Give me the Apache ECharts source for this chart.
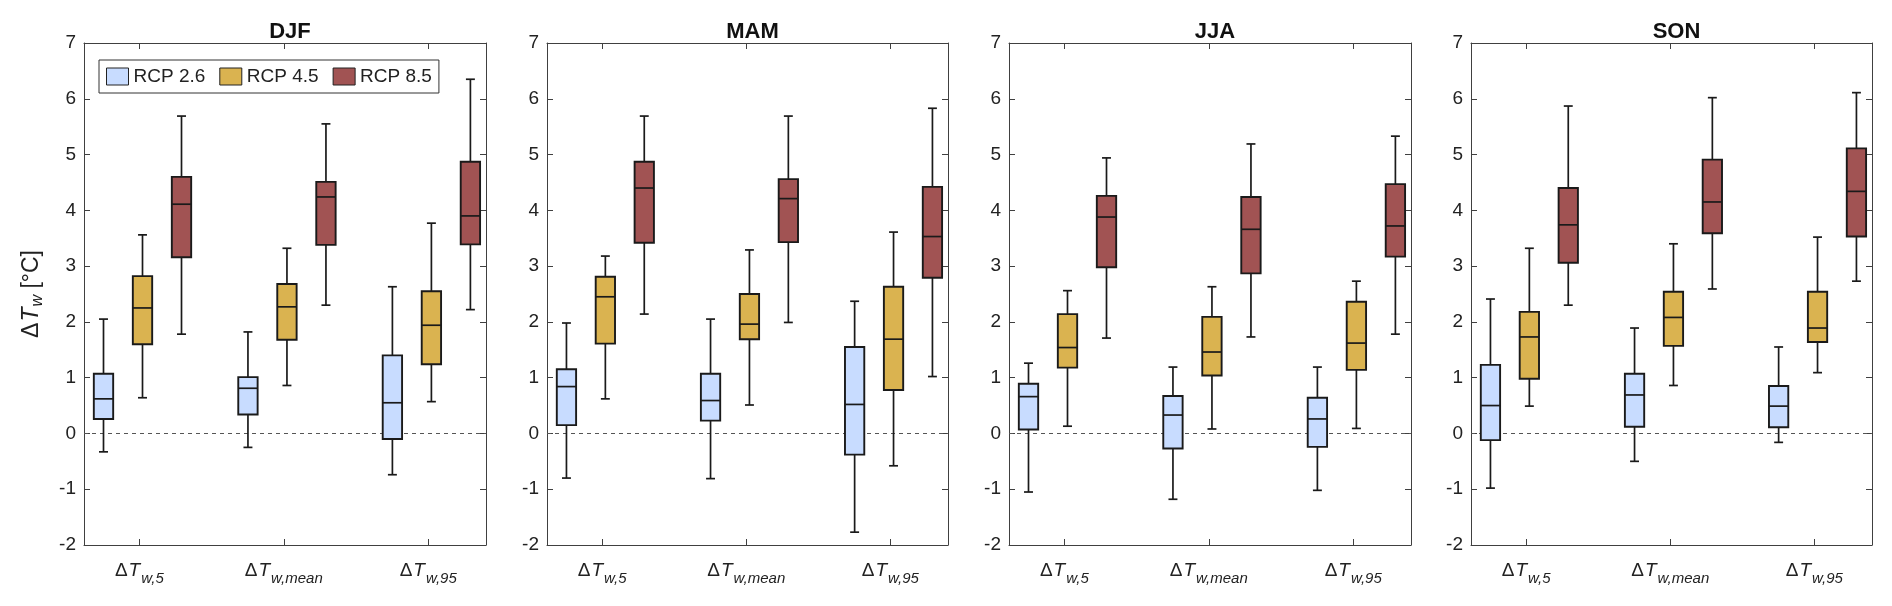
<!DOCTYPE html>
<html>
<head>
<meta charset="utf-8">
<script src="https://cdn.jsdelivr.net/npm/echarts@6/dist/echarts.min.js"></script>
<style>
html,body{margin:0;padding:0;background:#fff;}
#chart{width:1892px;height:606px;}
</style>
</head>
<body>
<div id="chart"></div>
<script>
// ---------- DATA ----------
const seasons = ['DJF', 'MAM', 'JJA', 'SON'];
const scenarios = ['RCP 2.6', 'RCP 4.5', 'RCP 8.5'];
const categoryPositions = [1, 2, 3];
const categorySubscripts = ['w,5', 'w,mean', 'w,95'];
const yTicks = [-2, -1, 0, 1, 2, 3, 4, 5, 6, 7];

// each row: [lower whisker, Q1, median, Q3, upper whisker] for ΔTw,5 / ΔTw,mean / ΔTw,95
const DJF_RCP26 = [[-0.33, 0.26, 0.62, 1.07, 2.05], [-0.25, 0.34, 0.81, 1.01, 1.82], [-0.74, -0.10, 0.55, 1.40, 2.63]];
const DJF_RCP45 = [[0.64, 1.60, 2.25, 2.82, 3.56], [0.86, 1.68, 2.27, 2.68, 3.32], [0.57, 1.24, 1.94, 2.55, 3.77]];
const DJF_RCP85 = [[1.78, 3.16, 4.11, 4.60, 5.69], [2.30, 3.38, 4.24, 4.51, 5.55], [2.22, 3.39, 3.90, 4.87, 6.35]];

const MAM_RCP26 = [[-0.80, 0.15, 0.84, 1.15, 1.98], [-0.81, 0.23, 0.59, 1.07, 2.05], [-1.77, -0.38, 0.52, 1.55, 2.37]];
const MAM_RCP45 = [[0.62, 1.61, 2.45, 2.81, 3.18], [0.51, 1.69, 1.96, 2.50, 3.29], [-0.58, 0.78, 1.69, 2.63, 3.61]];
const MAM_RCP85 = [[2.14, 3.42, 4.40, 4.87, 5.69], [1.99, 3.43, 4.21, 4.56, 5.69], [1.02, 2.79, 3.53, 4.42, 5.83]];

const JJA_RCP26 = [[-1.05, 0.07, 0.66, 0.89, 1.26], [-1.18, -0.27, 0.33, 0.67, 1.19], [-1.02, -0.24, 0.26, 0.64, 1.19]];
const JJA_RCP45 = [[0.13, 1.18, 1.54, 2.14, 2.56], [0.08, 1.04, 1.46, 2.09, 2.63], [0.09, 1.14, 1.62, 2.36, 2.73]];
const JJA_RCP85 = [[1.71, 2.98, 3.88, 4.26, 4.94], [1.73, 2.87, 3.66, 4.24, 5.19], [1.78, 3.17, 3.72, 4.47, 5.33]];

const SON_RCP26 = [[-0.98, -0.12, 0.50, 1.23, 2.41], [-0.50, 0.12, 0.69, 1.07, 1.89], [-0.16, 0.11, 0.49, 0.85, 1.55]];
const SON_RCP45 = [[0.49, 0.98, 1.73, 2.18, 3.32], [0.86, 1.57, 2.08, 2.54, 3.40], [1.09, 1.64, 1.89, 2.54, 3.52]];
const SON_RCP85 = [[2.30, 3.06, 3.74, 4.40, 5.87], [2.59, 3.59, 4.15, 4.91, 6.02], [2.73, 3.53, 4.34, 5.11, 6.11]];

const seasonData = {
  DJF: [DJF_RCP26, DJF_RCP45, DJF_RCP85],
  MAM: [MAM_RCP26, MAM_RCP45, MAM_RCP85],
  JJA: [JJA_RCP26, JJA_RCP45, JJA_RCP85],
  SON: [SON_RCP26, SON_RCP45, SON_RCP85]
};

// ---------- LAYOUT / STYLE ----------
const colors = ['#C8DCFF', '#DAB350', '#A15353'];
const scenarioOffsets = [-0.248, 0.022, 0.292];
const boxWidthUnits = 0.134;
const capWidthUnits = 0.062;
const gridLefts = [84, 547, 1009, 1471];
const gridWidths = [402, 401, 402, 401];
const gridTop = 43, gridHeight = 502;
const xMin = 0.617, xMax = 3.40;
const frameColor = '#404040';
const fontFamily = '"Liberation Sans", Arial, Helvetica, sans-serif';

function renderBox(params, api) {
  const x = api.value(0);
  const lo = api.coord([x, api.value(1)]);
  const q1 = api.coord([x, api.value(2)]);
  const md = api.coord([x, api.value(3)]);
  const q3 = api.coord([x, api.value(4)]);
  const hi = api.coord([x, api.value(5)]);
  const bw = api.size([boxWidthUnits, 0])[0];
  const cw = api.size([capWidthUnits, 0])[0];
  const cx = lo[0];
  const fill = api.visual('color');
  const ls = { stroke: '#1a1a1a', lineWidth: 1.7 };
  return {
    type: 'group',
    children: [
      { type: 'line', shape: { x1: cx, y1: hi[1], x2: cx, y2: q3[1] }, style: ls },
      { type: 'line', shape: { x1: cx, y1: q1[1], x2: cx, y2: lo[1] }, style: ls },
      { type: 'line', shape: { x1: cx - cw / 2, y1: hi[1], x2: cx + cw / 2, y2: hi[1] }, style: ls },
      { type: 'line', shape: { x1: cx - cw / 2, y1: lo[1], x2: cx + cw / 2, y2: lo[1] }, style: ls },
      { type: 'rect', shape: { x: cx - bw / 2, y: q3[1], width: bw, height: q1[1] - q3[1] },
        style: { fill: fill, stroke: '#1a1a1a', lineWidth: 1.9 } },
      { type: 'line', shape: { x1: cx - bw / 2, y1: md[1], x2: cx + bw / 2, y2: md[1] },
        style: { stroke: '#1a1a1a', lineWidth: 1.7 } }
    ]
  };
}

const xRich = {
  d: { fontSize: 19, fontFamily: fontFamily, color: '#222', verticalAlign: 'top', lineHeight: 20, padding: [0, 1, 0, 0] },
  t: { fontSize: 19, fontFamily: fontFamily, fontStyle: 'italic', color: '#222', verticalAlign: 'top', lineHeight: 20 },
  s: { fontSize: 15, fontFamily: fontFamily, fontStyle: 'italic', color: '#222', verticalAlign: 'top', lineHeight: 16, padding: [10, 0, 0, 1] }
};

const grids = [], xAxes = [], yAxes = [], series = [], titles = [];
seasons.forEach(function (season, gi) {
  grids.push({ left: gridLefts[gi], top: gridTop, width: gridWidths[gi], height: gridHeight, containLabel: false });
  titles.push({
    text: season, left: gridLefts[gi] + gridWidths[gi] / 2, top: 16, textAlign: 'center',
    textStyle: { fontSize: 22, fontWeight: 'bold', color: '#111', fontFamily: fontFamily }
  });
  // bottom x axis
  xAxes.push({
    gridIndex: gi, type: 'value', min: xMin, max: xMax, position: 'bottom',
    axisLine: { show: true, onZero: false, lineStyle: { color: frameColor, width: 1 } },
    axisTick: { show: true, inside: true, length: 6, customValues: categoryPositions, lineStyle: { color: frameColor } },
    axisLabel: {
      show: true, customValues: categoryPositions, margin: 16,
      formatter: function (v) {
        const idx = Math.round(v) - 1;
        return '{d|Δ}{t|T}{s|' + categorySubscripts[idx] + '}';
      },
      rich: xRich
    },
    splitLine: { show: false }
  });
  // top x axis (frame)
  xAxes.push({
    gridIndex: gi, type: 'value', min: xMin, max: xMax, position: 'top',
    axisLine: { show: true, onZero: false, lineStyle: { color: frameColor, width: 1 } },
    axisTick: { show: true, inside: true, length: 6, customValues: categoryPositions, lineStyle: { color: frameColor } },
    axisLabel: { show: false },
    splitLine: { show: false }
  });
  const yCommon = {
    gridIndex: gi, type: 'value', min: -2, max: 7, interval: 1,
    axisLine: { show: true, onZero: false, lineStyle: { color: frameColor, width: 1 } },
    axisTick: { show: true, inside: true, length: 6, lineStyle: { color: frameColor } },
    splitLine: { show: false }
  };
  yAxes.push(Object.assign({}, yCommon, {
    position: 'left',
    axisLabel: { show: true, fontSize: 19, color: '#222', fontFamily: fontFamily, margin: 8,
      formatter: function (v) { return yTicks.indexOf(v) >= 0 ? String(v) : ''; } },
    name: gi === 0 ? '{d|Δ}{t|T}{s|w}{u| [°C]}' : '',
    nameLocation: 'middle', nameGap: 40, nameRotate: 90,
    nameTextStyle: {
      rich: {
        d: { fontSize: 23, fontFamily: fontFamily, color: '#222', verticalAlign: 'top', lineHeight: 24, padding: [0, 1, 0, 0] },
        t: { fontSize: 23, fontFamily: fontFamily, fontStyle: 'italic', color: '#222', verticalAlign: 'top', lineHeight: 24 },
        s: { fontSize: 16, fontFamily: fontFamily, fontStyle: 'italic', color: '#222', verticalAlign: 'top', lineHeight: 17, padding: [10, 0, 0, 1] },
        u: { fontSize: 23, fontFamily: fontFamily, color: '#222', verticalAlign: 'top', lineHeight: 24 }
      }
    }
  }));
  yAxes.push(Object.assign({}, yCommon, { position: 'right', axisLabel: { show: false } }));

  seasonData[season].forEach(function (rows, si) {
    const data = rows.map(function (r, ci) {
      return [categoryPositions[ci] + scenarioOffsets[si]].concat(r);
    });
    const s = {
      name: scenarios[si], type: 'custom',
      xAxisIndex: gi * 2, yAxisIndex: gi * 2,
      itemStyle: { color: colors[si], borderColor: '#222', borderWidth: 1 },
      renderItem: renderBox,
      encode: { x: 0, y: [1, 2, 3, 4, 5] },
      data: data, z: 3, silent: true
    };
    if (si === 0) {
      s.markLine = {
        silent: true, symbol: 'none', z: 1,
        label: { show: false },
        lineStyle: { color: '#555', width: 1, type: [4, 4] },
        data: [{ yAxis: 0 }]
      };
    }
    series.push(s);
  });
});

const chart = echarts.init(document.getElementById('chart'), null, { renderer: 'canvas' });
chart.setOption({
  backgroundColor: '#fff',
  animation: false,
  title: titles,
  grid: grids,
  xAxis: xAxes,
  yAxis: yAxes,
  legend: {
    left: 99, top: 60, orient: 'horizontal',
    padding: [7, 7, 7, 7], itemGap: 14, itemWidth: 22, itemHeight: 17,
    backgroundColor: '#fff', borderColor: '#333', borderWidth: 1, borderRadius: 0,
    textStyle: { fontSize: 19, color: '#222', fontFamily: fontFamily },
    data: scenarios.map(function (n, i) {
      return { name: n, icon: 'rect', itemStyle: { color: colors[i], borderColor: '#222', borderWidth: 1 } };
    })
  },
  series: series
});
</script>
</body>
</html>
